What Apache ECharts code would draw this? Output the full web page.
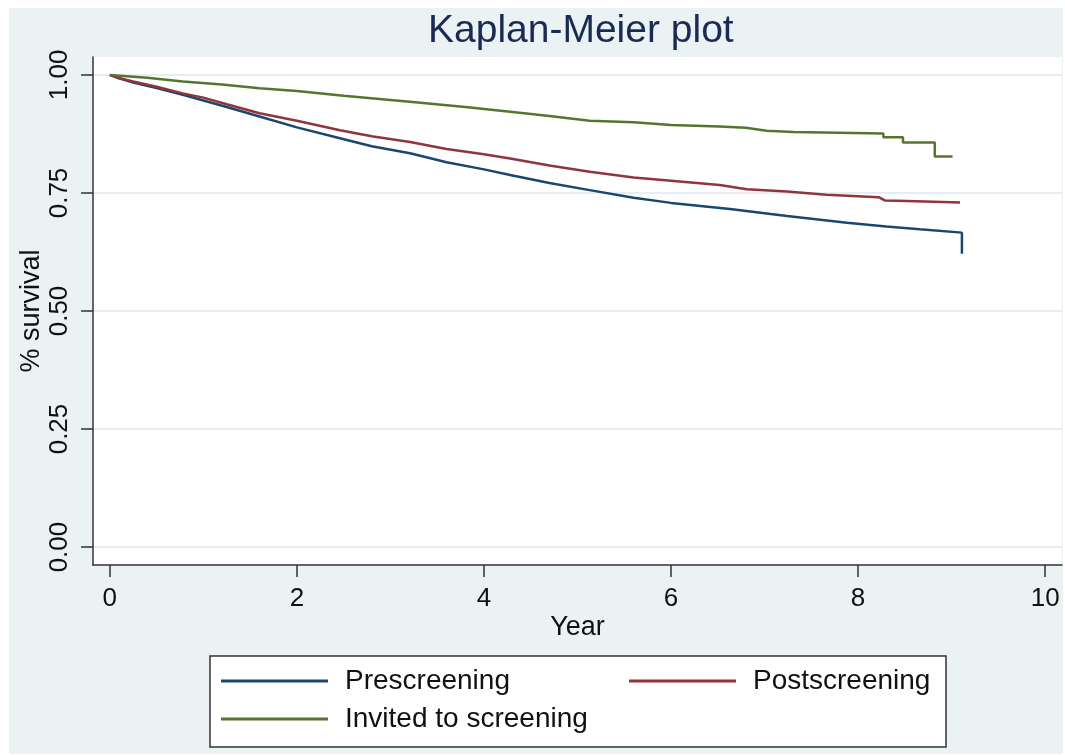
<!DOCTYPE html>
<html><head><meta charset="utf-8">
<script src="https://cdn.jsdelivr.net/npm/echarts@6/dist/echarts.min.js"></script>
<style>
html,body{margin:0;padding:0;background:#fff;}
#bg{position:absolute;left:9px;top:8px;width:1054px;height:746px;background:#EAF2F3;}
#chart{position:absolute;left:0;top:0;width:1065px;height:755px;}
</style></head><body>
<div id="bg"></div><div id="chart"></div>
<script>
const titleText = 'Kaplan-Meier plot';
const xName = 'Year';
const yName = '% survival';
const xTicks = [0, 2, 4, 6, 8, 10];
const yTicks = [0, 0.25, 0.5, 0.75, 1];
const seriesNames = ['Prescreening', 'Postscreening', 'Invited to screening'];

const preT = [0,0.1,0.25,0.5,0.78,1.0,1.25,1.6,2.0,2.46,2.8,3.21,3.6,4.0,4.28,4.7,5.13,5.6,6.0,6.63,7.24,7.88,8.3,8.66,9.11,9.11];
const preS = [1.000,0.993,0.984,0.972,0.958,0.946,0.932,0.912,0.889,0.866,0.849,0.834,0.815,0.800,0.788,0.771,0.756,0.740,0.729,0.716,0.701,0.687,0.679,0.673,0.666,0.621];

const postT = [0,0.1,0.25,0.5,0.78,1.0,1.25,1.6,2.0,2.46,2.8,3.21,3.6,4.0,4.28,4.7,5.13,5.6,6.0,6.52,6.81,7.24,7.66,8.22,8.29,8.52,8.54,9.09];
const postS = [1.000,0.993,0.986,0.975,0.961,0.952,0.938,0.919,0.903,0.883,0.870,0.858,0.843,0.832,0.823,0.808,0.795,0.783,0.776,0.767,0.758,0.753,0.746,0.741,0.734,0.733,0.730,0.730];

const invT = [0,0.4,0.78,1.2,1.6,2.0,2.5,3.0,3.32,3.8,4.28,4.7,5.13,5.6,6.0,6.52,6.8,7.02,7.02,7.31,7.31,8.27,8.27,8.48,8.48,8.82,8.82,9.01];
const invS = [1.000,0.994,0.986,0.980,0.972,0.966,0.956,0.947,0.941,0.932,0.922,0.913,0.903,0.900,0.894,0.891,0.888,0.882,0.879,0.879,0.876,0.876,0.868,0.868,0.857,0.857,0.827,0.827];

const colors = ['#1A476F', '#90353B', '#55752F'];
const F = '"Liberation Sans", Arial, Helvetica, sans-serif';
const zip = (a, b) => a.map((v, i) => [v, b[i]]);

const chart = echarts.init(document.getElementById('chart'), null, {renderer: 'canvas'});
const axisLineStyle = {color: '#333', width: 1.5};
const legendCommon = {
  orient: 'horizontal', padding: 0, icon: 'rect', itemWidth: 107, itemHeight: 3,
  selectedMode: false,
  textStyle: {fontFamily: F, fontSize: 28, color: '#111', padding: [0, 0, 0, 12]}
};
const option = {
  animation: false,
  backgroundColor: 'transparent',
  color: colors,
  title: {
    text: titleText, left: 423, top: 7,
    textStyle: {fontFamily: F, fontSize: 39, fontWeight: 'normal', color: '#1B2A52'}
  },
  grid: {left: 93, right: 3, top: 57, bottom: 190, show: true, backgroundColor: '#fff', borderWidth: 0},
  xAxis: {
    type: 'value', min: -0.18, max: 10.18,
    name: xName, nameLocation: 'middle', nameGap: 49, nameMoveOverlap: false,
    nameTextStyle: {fontFamily: F, fontSize: 27, color: '#111'},
    axisLine: {show: true, onZero: false, lineStyle: axisLineStyle},
    axisTick: {show: true, length: 12, customValues: xTicks, lineStyle: axisLineStyle},
    axisLabel: {customValues: xTicks, margin: 21, fontFamily: F, fontSize: 26, color: '#111'},
    splitLine: {show: false}
  },
  yAxis: {
    type: 'value', min: -0.038, max: 1.038,
    name: yName, nameLocation: 'middle', nameGap: 48, nameRotate: 90, nameMoveOverlap: false,
    nameTextStyle: {fontFamily: F, fontSize: 27, color: '#111'},
    axisLine: {show: true, onZero: false, lineStyle: axisLineStyle},
    axisTick: {show: true, length: 12, customValues: yTicks, lineStyle: axisLineStyle},
    axisLabel: {customValues: yTicks, rotate: 90, margin: 20, fontFamily: F, fontSize: 26, color: '#111',
      formatter: v => v.toFixed(2)},
    splitLine: {show: true, lineStyle: {color: '#E6EEF0', width: 2}}
  },
  legend: [
    Object.assign({}, legendCommon, {data: [seriesNames[0]], left: 221, top: 667}),
    Object.assign({}, legendCommon, {data: [seriesNames[1]], left: 629, top: 667}),
    Object.assign({}, legendCommon, {data: [seriesNames[2]], left: 221, top: 705})
  ],
  graphic: [{
    type: 'rect', z: 1,
    shape: {x: 210, y: 656, width: 736, height: 91},
    style: {fill: '#fff', stroke: '#333', lineWidth: 1.5}
  }],
  series: [
    {name: seriesNames[0], type: 'line', data: zip(preT, preS), showSymbol: false, lineStyle: {width: 2.5, color: colors[0]}, itemStyle: {color: colors[0]}},
    {name: seriesNames[1], type: 'line', data: zip(postT, postS), showSymbol: false, lineStyle: {width: 2.5, color: colors[1]}, itemStyle: {color: colors[1]}},
    {name: seriesNames[2], type: 'line', data: zip(invT, invS), showSymbol: false, lineStyle: {width: 2.5, color: colors[2]}, itemStyle: {color: colors[2]}}
  ]
};
chart.setOption(option);
</script>
</body></html>
